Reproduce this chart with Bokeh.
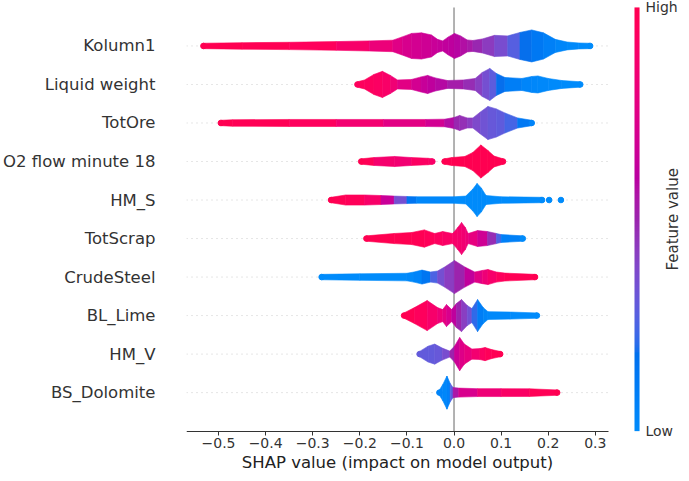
import math
import numpy as np
from bokeh.plotting import figure
from bokeh.models import (Range1d, FixedTicker, CustomJSTickFormatter, LinearAxis,
                          ColumnDataSource, LinearColorMapper, Label)
from bokeh.embed import file_html
from bokeh.resources import INLINE

# ---------------- data ----------------
features = ["BS_Dolomite", "HM_V", "BL_Lime", "CrudeSteel", "TotScrap",
            "HM_S", "O2 flow minute 18", "TotOre", "Liquid weight", "Kolumn1"]
x_ticks = [-0.5, -0.4, -0.3, -0.2, -0.1, 0.0, 0.1, 0.2, 0.3]

kolumn1_shap = [-0.532, -0.45, -0.35, -0.25, -0.18, -0.13, -0.11, -0.09, -0.069, -0.048, -0.035, -0.024,
                -0.012, 0.001, 0.014, 0.028, 0.04, 0.06, 0.086, 0.114, 0.14, 0.165, 0.19, 0.215, 0.24, 0.265, 0.289]
kolumn1_density = [0, 0.04, 0.07, 0.12, 0.17, 0.22, 0.46, 0.71, 0.75, 0.6, 0.28, 0.17,
                   0.46, 0.71, 0.53, 0.24, 0.2, 0.31, 0.57, 0.53, 0.78, 0.96, 0.75, 0.28, 0.09, 0.02, 0]
kolumn1_feature = [1.0, 1.0, 0.98, 0.93, 0.85, 0.78, 0.72, 0.7, 0.68, 0.66, 0.64, 0.63,
                   0.62, 0.6, 0.58, 0.56, 0.52, 0.46, 0.4, 0.32, 0.22, 0.15, 0.1, 0.05, 0.02, 0.0, 0.0]

liquid_shap = [-0.205, -0.19, -0.17, -0.152, -0.135, -0.12, -0.09, -0.07, -0.056, -0.04, -0.014, 0.02,
               0.045, 0.06, 0.076, 0.09, 0.108, 0.144, 0.165, 0.178, 0.2, 0.229, 0.268]
liquid_density = [0, 0.13, 0.53, 0.75, 0.46, 0.13, 0.17, 0.35, 0.46, 0.28, 0.09, 0.13,
                  0.24, 0.67, 0.96, 0.6, 0.31, 0.24, 0.38, 0.42, 0.24, 0.09, 0]
liquid_feature = [0.95, 0.95, 0.93, 0.92, 0.88, 0.8, 0.72, 0.66, 0.63, 0.6, 0.56, 0.5,
                  0.45, 0.38, 0.32, 0.25, 0.12, 0.05, 0.03, 0.02, 0.01, 0.0, 0.0]

totore_shap = [-0.495, -0.47, -0.35, -0.25, -0.15, -0.06, -0.02, 0.0, 0.012, 0.028, 0.04, 0.056,
               0.072, 0.09, 0.108, 0.135, 0.165]
totore_density = [0, 0.04, 0.06, 0.06, 0.06, 0.06, 0.08, 0.2, 0.35, 0.17, 0.17, 0.6,
                  1.0, 0.82, 0.53, 0.17, 0]
totore_feature = [1.0, 1.0, 0.97, 0.92, 0.8, 0.72, 0.65, 0.5, 0.48, 0.45, 0.4, 0.35,
                  0.32, 0.3, 0.28, 0.2, 0.05]

o2_shap = [-0.197, -0.17, -0.126, -0.09, -0.055, -0.046, None,
           -0.02, -0.005, 0.023, 0.04, 0.057, 0.072, 0.085, 0.104]
o2_density = [0, 0.09, 0.17, 0.09, 0.04, 0, None,
              0, 0.09, 0.17, 0.46, 1.0, 0.6, 0.2, 0]
o2_feature = [1.0, 0.95, 0.8, 0.9, 0.95, 0.9, None,
              1.0, 1.0, 1.0, 1.0, 1.0, 1.0, 1.0, 1.0]

hms_shap = [-0.261, -0.23, -0.19, -0.155, -0.127, -0.1, -0.08, 0.0, 0.025, 0.04, 0.049, 0.058,
            0.068, 0.10, 0.187]
hms_density = [0, 0.17, 0.17, 0.13, 0.09, 0.06, 0.04, 0.04, 0.09, 0.6, 1.0, 0.67,
               0.13, 0.04, 0]
hms_feature = [1.0, 0.98, 0.95, 0.85, 0.45, 0.25, 0.05, 0.0, 0.0, 0.0, 0.0, 0.0,
               0.0, 0.0, 0.0]
hms_outliers = [0.202, 0.227]

totscrap_shap = [-0.186, -0.127, -0.09, -0.063, -0.041, -0.024, -0.003, 0.008, 0.016, 0.024, 0.03, 0.05,
                 0.071, 0.09, 0.1, 0.146]
totscrap_density = [0, 0.17, 0.24, 0.43, 0.17, 0.31, 0.17, 0.6, 0.96, 0.6, 0.17, 0.38,
                    0.31, 0.17, 0.09, 0]
totscrap_feature = [1.0, 1.0, 1.0, 0.98, 0.95, 0.92, 0.9, 0.88, 0.86, 0.84, 0.82, 0.75,
                    0.6, 0.35, 0.15, 0.0]

crude_shap = [-0.281, -0.2, -0.1, -0.085, -0.068, -0.05, -0.035, -0.02, 0.001, 0.023, 0.044, 0.06,
              0.072, 0.09, 0.108, 0.172]
crude_density = [0, 0.04, 0.08, 0.17, 0.31, 0.17, 0.24, 0.53, 1.0, 0.53, 0.17, 0.28,
                 0.35, 0.17, 0.09, 0]
crude_feature = [0.0, 0.0, 0.0, 0.02, 0.08, 0.2, 0.3, 0.4, 0.45, 0.55, 0.7, 0.8,
                 0.85, 0.92, 0.97, 1.0]

lime_shap = [-0.106, -0.084, -0.057, -0.035, -0.024, -0.016, -0.005, 0.005, 0.016, 0.028, 0.038, 0.05,
             0.062, 0.072, 0.12, 0.176]
lime_density = [0, 0.38, 0.89, 0.38, 0.24, 0.6, 0.24, 0.67, 0.96, 0.53, 0.31, 0.96,
                0.38, 0.09, 0.06, 0]
lime_feature = [1.0, 0.98, 0.92, 0.85, 0.8, 0.75, 0.68, 0.55, 0.45, 0.38, 0.3, 0.12,
                0.05, 0.02, 0.0, 0.0]

hmv_shap = [-0.073, -0.055, -0.041, -0.025, -0.009, 0.001, 0.012, 0.022, 0.038, 0.055, 0.066, 0.08, 0.098]
hmv_density = [0, 0.38, 0.53, 0.24, 0.02, 0.38, 1.0, 0.53, 0.17, 0.2, 0.28, 0.13, 0]
hmv_feature = [0.3, 0.3, 0.3, 0.32, 0.4, 0.6, 0.72, 0.76, 0.82, 0.9, 0.95, 0.98, 1.0]

dolomite_shap = [-0.031, -0.024, -0.015, -0.008, -0.002, 0.01, 0.05, 0.1, 0.16, 0.219]
dolomite_density = [0, 0.38, 1.0, 0.46, 0.17, 0.13, 0.09, 0.09, 0.08, 0]
dolomite_feature = [0.05, 0.03, 0.02, 0.1, 0.45, 0.65, 0.78, 0.88, 0.95, 1.0]

swarms = {
    "Kolumn1": (kolumn1_shap, kolumn1_density, kolumn1_feature),
    "Liquid weight": (liquid_shap, liquid_density, liquid_feature),
    "TotOre": (totore_shap, totore_density, totore_feature),
    "O2 flow minute 18": (o2_shap, o2_density, o2_feature),
    "HM_S": (hms_shap, hms_density, hms_feature),
    "TotScrap": (totscrap_shap, totscrap_density, totscrap_feature),
    "CrudeSteel": (crude_shap, crude_density, crude_feature),
    "BL_Lime": (lime_shap, lime_density, lime_feature),
    "HM_V": (hmv_shap, hmv_density, hmv_feature),
    "BS_Dolomite": (dolomite_shap, dolomite_density, dolomite_feature),
}
outliers = {"HM_S": (hms_outliers, [0.0, 0.0])}

# ---------------- style / layout ----------------
XMIN, XMAX = -0.568, 0.328      # SHAP axis limits
XEND = 0.483                    # frame extends right to hold the colour bar
YMIN, YMAX = -2.1, 10.18        # frame extends below the axis (axis fixed at y=-1)
DOT_R = 0.07
SPREAD = 0.36
FONT = "DejaVu Sans"


def shap_red_blue(n=256):
    t = np.linspace(0, 1, n)
    l = np.where(t <= 0.5, 54 + (40 - 54) * (t / 0.5), 40 + (54 - 40) * ((t - 0.5) / 0.5))
    c = 70 + 20 * t
    h = 4.6588 + (0.35470565 + 2 * np.pi - 4.6588) * t
    a = c * np.cos(h)
    b = c * np.sin(h)
    fy = (l + 16) / 116
    fx = fy + a / 500
    fz = fy - b / 200

    def finv(f):
        return np.where(f > 6 / 29, f ** 3, 3 * (6 / 29) ** 2 * (f - 4 / 29))

    X = 0.95047 * finv(fx)
    Y = finv(fy)
    Z = 1.08883 * finv(fz)
    r = 3.2404542 * X - 1.5371385 * Y - 0.4985314 * Z
    g = -0.9692660 * X + 1.8760108 * Y + 0.0415560 * Z
    bb = 0.0556434 * X - 0.2040259 * Y + 1.0572252 * Z

    def gam(v):
        v = np.clip(v, 0, None)
        return np.clip(np.where(v <= 0.0031308, 12.92 * v, 1.055 * np.power(v, 1 / 2.4) - 0.055), 0, 1)

    R, G, B = gam(r), gam(g), gam(bb)
    return ["#%02x%02x%02x" % (int(round(R[i] * 255)), int(round(G[i] * 255)), int(round(B[i] * 255)))
            for i in range(n)]


palette = shap_red_blue(256)


def col(v):
    return palette[int(round(min(max(v, 0.0), 1.0) * 255))]


p = figure(width=681, height=473, output_backend="svg", toolbar_location=None,
           x_range=Range1d(XMIN, XEND), y_range=Range1d(YMIN, YMAX),
           x_axis_location=None, y_axis_location=None,
           min_border_left=0, min_border_right=0, min_border_top=0, min_border_bottom=0)
p.outline_line_color = None
p.background_fill_color = "white"
p.border_fill_color = "white"
p.xgrid.visible = False
p.ygrid.visible = False

xaxis = LinearAxis(bounds=(XMIN, XMAX), fixed_location=-1,
                   ticker=FixedTicker(ticks=x_ticks, minor_ticks=[]),
                   formatter=CustomJSTickFormatter(code="return tick.toFixed(1).replace('-', '\u2212');"))
xaxis.axis_label = "SHAP value (impact on model output)"
xaxis.axis_line_color = "#333333"
xaxis.axis_line_width = 1
xaxis.major_tick_line_color = "#333333"
xaxis.major_tick_out = 4
xaxis.major_tick_in = 0
xaxis.minor_tick_line_color = None
xaxis.major_label_text_font = FONT
xaxis.major_label_text_font_size = "14px"
xaxis.major_label_text_color = "#333333"
xaxis.major_label_standoff = 3
xaxis.axis_label_text_font = FONT
xaxis.axis_label_text_font_size = "16.5px"
xaxis.axis_label_text_font_style = "normal"
xaxis.axis_label_text_color = "#222222"
xaxis.axis_label_standoff = 1
p.add_layout(xaxis, "below")

yaxis = LinearAxis(ticker=FixedTicker(ticks=list(range(len(features))), minor_ticks=[]))
yaxis.major_label_overrides = {i: name for i, name in enumerate(features)}
yaxis.axis_line_color = None
yaxis.major_tick_line_color = None
yaxis.minor_tick_line_color = None
yaxis.major_tick_out = 0
yaxis.major_tick_in = 0
yaxis.major_label_standoff = 31
yaxis.major_label_text_font = FONT
yaxis.major_label_text_font_size = "16.5px"
yaxis.major_label_text_color = "#333333"
p.add_layout(yaxis, "left")

rows = list(range(len(features)))
p.segment(x0=[XMIN] * len(rows), x1=[XMAX] * len(rows), y0=rows, y1=rows,
          line_color="#cccccc", line_width=1, line_dash="1 4")
p.segment(x0=[0], x1=[0], y0=[-1], y1=[10], line_color="#999999", line_width=1.5)

pxs, pys, pcols = [], [], []
cap_x, cap_y, cap_c = [], [], []
for row, name in enumerate(features):
    xs, ds, cs = swarms[name]
    n = len(xs)
    for j in range(n - 1):
        if xs[j] is None or xs[j + 1] is None:
            continue
        h0 = DOT_R + SPREAD * ds[j]
        h1 = DOT_R + SPREAD * ds[j + 1]
        pxs.append([xs[j], xs[j + 1], xs[j + 1], xs[j]])
        pys.append([row + h0, row + h1, row - h1, row - h0])
        pcols.append(col(0.5 * (cs[j] + cs[j + 1])))
    for j in range(n):
        if xs[j] is None:
            continue
        start = j == 0 or xs[j - 1] is None
        end = j == n - 1 or xs[j + 1] is None
        if start or end:
            cap_x.append(xs[j]); cap_y.append(row); cap_c.append(col(cs[j]))
    if name in outliers:
        ox, oc = outliers[name]
        for xv, cv in zip(ox, oc):
            cap_x.append(xv); cap_y.append(row); cap_c.append(col(cv))

src = ColumnDataSource(dict(xs=pxs, ys=pys, color=pcols))
p.patches(xs="xs", ys="ys", fill_color="color", line_color="color", line_width=0.6, source=src)
csrc = ColumnDataSource(dict(x=cap_x, y=cap_y, color=cap_c))
p.scatter(x="x", y="y", size=5.6, marker="circle", fill_color="color", line_color="color", source=csrc)

# colour bar
CB_X, CB_W = 0.3832, 0.0107
mapper = LinearColorMapper(palette=palette, low=0, high=1)
grad = np.linspace(0, 1, 256).reshape(256, 1)
p.image(image=[grad], x=CB_X, y=-1, dw=CB_W, dh=11, color_mapper=mapper)

p.add_layout(Label(x=0.4065, y=10, text="High", text_align="left", text_baseline="middle",
                   text_font=FONT, text_font_size="14px", text_color="#333333"))
p.add_layout(Label(x=0.4065, y=-1, text="Low", text_align="left", text_baseline="middle",
                   text_font=FONT, text_font_size="14px", text_color="#333333"))
p.add_layout(Label(x=0.464, y=4.5, text="Feature value", angle=math.pi / 2,
                   text_align="center", text_baseline="middle",
                   text_font=FONT, text_font_size="15px", text_color="#333333"))

open("out.html", "w").write(file_html(p, INLINE))
